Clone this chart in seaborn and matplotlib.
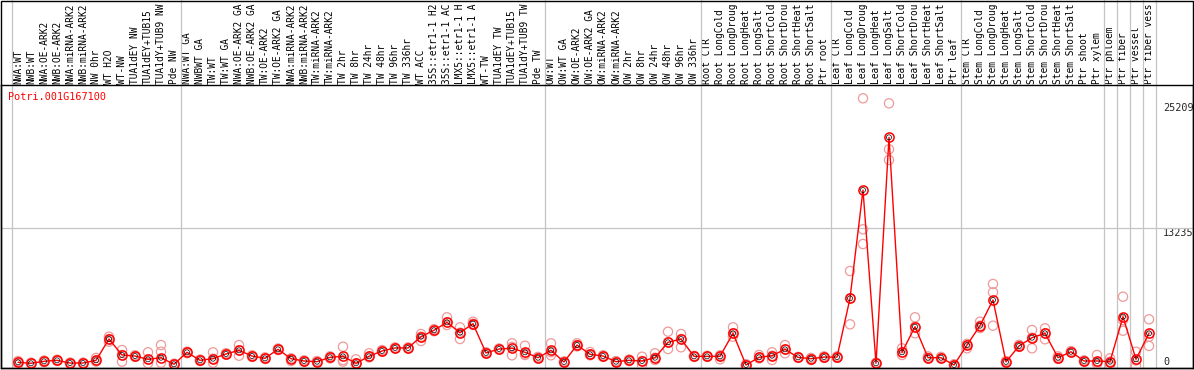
import numpy as np
import pandas as pd
import matplotlib
matplotlib.use("Agg")
import matplotlib.pyplot as plt
from matplotlib.markers import MarkerStyle
from matplotlib.patches import Rectangle
import seaborn as sns

gene = "Potri.001G167100"

# Category labels as they are visible in the chart (the header band cuts them at 14 characters)
categories = [
    "NWA:WT", "NWB:WT", "NWA:OE-ARK2", "NWB:OE-ARK2", "NWA:miRNA-ARK2", "NWB:miRNA-ARK2",
    "NW 0hr", "WT H2O", "WT-NW", "TUA1dEY NW", "TUA1dEY+TUB15", "TUA1dY+TUB9 NW", "Pde NW",
    "NWA:WT GA", "NWBWT GA", "TW:WT", "TW:WT GA", "NWA:OE-ARK2 GA", "NWB:OE-ARK2 GA",
    "TW:OE-ARK2", "TW:OE-ARK2 GA", "NWA:miRNA-ARK2", "NWB:miRNA-ARK2", "TW:miRNA-ARK2",
    "TW:miRNA-ARK2", "TW 2hr", "TW 8hr", "TW 24hr", "TW 48hr", "TW 96hr", "TW 336hr",
    "WT ACC", "35S::etr1-1 H2", "35S::etr1-1 AC", "LMX5::etr1-1 H", "LMX5::etr1-1 A",
    "WT-TW", "TUA1dEY TW", "TUA1dEY+TUB15", "TUA1dY+TUB9 TW", "Pde TW",
    "OW:WT", "OW:WT GA", "OW:OE-ARK2", "OW:OE-ARK2 GA", "OW:miRNA-ARK2", "OW:miRNA-ARK2",
    "OW 2hr", "OW 8hr", "OW 24hr", "OW 48hr", "OW 96hr", "OW 336hr",
    "Root CTR", "Root LongCold", "Root LongDroug", "Root LongHeat", "Root LongSalt",
    "Root ShortCold", "Root ShortDrou", "Root ShortHeat", "Root ShortSalt", "Ptr root",
    "Leaf CTR", "Leaf LongCold", "Leaf LongDroug", "Leaf LongHeat", "Leaf LongSalt",
    "Leaf ShortCold", "Leaf ShortDrou", "Leaf ShortHeat", "Leaf ShortSalt", "Ptr leaf",
    "Stem CTR", "Stem LongCold", "Stem LongDroug", "Stem LongHeat", "Stem LongSalt",
    "Stem ShortCold", "Stem ShortDrou", "Stem ShortHeat", "Stem ShortSalt", "Ptr shoot",
    "Ptr xylem", "Ptr phloem", "Ptr fiber", "Ptr vessel", "Ptr fiber vess",
]

means = [
    430, 335, 525, 620, 360, 360, 620, 2655, 1130, 1030, 715, 870, 240,
    1385, 620, 775, 1225, 1575, 1030, 810, 1670, 775, 555, 490, 905, 1000,
    335, 1000, 1510, 1800, 1800, 2880, 3490, 4250, 3260, 4120, 1320, 1700,
    1770, 1385, 870, 1575, 460, 2080, 1195, 1030, 490, 620, 555, 870, 2340,
    2655, 1000, 1000, 1000, 3200, 170, 905, 1060, 1670, 905, 775, 930, 930,
    6545, 16895, 335, 21930, 1385, 3830, 870, 870, 170, 2080, 3930, 6385,
    470, 1990, 2780, 3200, 870, 1440, 555, 555, 490, 4790, 715, 3200,
]

rep_a = [
    550, 400, 600, 680, 400, 400, 850, 2880, 1600, 1100, 1385, 2080, 300,
    1450, 700, 1385, 1300, 2080, 1100, 900, 1750, 800, 620, 550, 1000, 1920,
    715, 1290, 1600, 1850, 1850, 3135, 3600, 4730, 3775, 4310, 1400, 1750,
    2245, 2015, 950, 2245, 520, 2245, 1415, 1100, 550, 700, 965, 1290, 3355,
    3135, 1050, 1050, 1100, 3775, 250, 1130, 1385, 2080, 950, 850, 1000, 1000,
    9155, 25660, 400, 25180, 1770, 4730, 1000, 950, 250, 2200, 4310, 7915,
    550, 2100, 3515, 3680, 1000, 1500, 620, 1130, 810, 6700, 1440, 4540,
]

rep_b = [
    250, 300, 450, 560, 300, 320, 500, 2400, 490, 950, 335, 390, 200,
    1300, 550, 390, 1150, 1060, 950, 750, 1600, 555, 500, 430, 800, 490,
    250, 900, 1450, 1750, 1750, 2465, 3400, 3995, 2655, 4000, 1250, 1650,
    1100, 1130, 800, 1100, 400, 1950, 1100, 950, 430, 550, 170, 650, 1700,
    1865, 950, 950, 715, 2880, 100, 800, 650, 1290, 850, 650, 850, 850,
    4060, 13140, 250, 20785, 1130, 3200, 800, 800, 100, 1770, 3700, 7120,
    400, 1900, 1770, 2630, 750, 1380, 500, 250, 170, 4470, 100, 2880,
]

rep_c = [
    430, 335, 525, 620, 360, 360, 620, 2655, 1130, 1030, 715, 1440, 240,
    1385, 620, 775, 1225, 1575, 1030, 810, 1670, 775, 555, 490, 905, 650,
    335, 1000, 1510, 1800, 1800, 2880, 3490, 4250, 3260, 4120, 1320, 1700,
    1900, 1250, 870, 1400, 460, 2080, 1195, 1030, 490, 620, 555, 870, 2340,
    2655, 1000, 1000, 1000, 3200, 170, 905, 1060, 1670, 905, 775, 930, 930,
    6545, 11735, 335, 19765, 1385, 3830, 870, 870, 170, 2080, 3930, 3930,
    470, 1990, 2780, 3200, 870, 1440, 555, 400, 490, 3450, 600, 1990,
]

y_ticks = [0, 13235, 25209]
group_separators = [-0.5, 12.5, 40.5, 52.5, 62.5, 72.5, 83.5, 84.5, 85.5, 86.5, 87.5]

# ---------------------------------------------------------------
sns.set_style("white")
plt.rcParams["font.family"] = ["DejaVu Sans Mono", "DejaVu Sans"]

W, H = 1194, 370
fig = plt.figure(figsize=(W / 100, H / 100), dpi=100)
ax_left, ax_right, ax_top, ax_bot = 0.5, 1193.0, 85.0, 368.0
ax = fig.add_axes([ax_left / W, (H - ax_bot) / H, (ax_right - ax_left) / W, (ax_bot - ax_top) / H])

n = len(categories)
df = pd.DataFrame({"idx": np.arange(n), "label": categories, "mean": means})
reps = pd.DataFrame({
    "idx": np.tile(np.arange(n), 3),
    "value": rep_a + rep_b + rep_c,
})

grey = "#c4c4c4"
ext = ax_bot / (ax_bot - ax_top)
for b in group_separators:
    ax.axvline(b, ymin=0, ymax=ext, color=grey, lw=0.9, clip_on=False, zorder=1)
ax.axhline(y_ticks[1], color=grey, lw=0.9, zorder=1)

open_circle = MarkerStyle("o", fillstyle="none")
sns.scatterplot(data=reps, x="idx", y="value", ax=ax, marker=open_circle, s=44,
                color="#ee9a9a", linewidth=0.9, zorder=3, legend=False)
sns.lineplot(data=df, x="idx", y="mean", ax=ax, color="#ff0000", lw=1.0,
             marker="o", markersize=6.6, markerfacecolor="none",
             markeredgecolor="#ff0000", markeredgewidth=1.1, zorder=4)
sns.scatterplot(data=df, x="idx", y="mean", ax=ax, marker=open_circle, s=13,
                color="#000000", linewidth=0.5, zorder=5, legend=False)

ax.set_xlim((ax_left - 18) / 13, (ax_right - 18) / 13)
yscale = 95.57
ax.set_ylim((366.8 - ax_bot) * yscale, (366.8 - ax_top) * yscale)

ax.xaxis.tick_top()
ax.set_xticks(df["idx"])
ax.set_xticklabels(categories, rotation=90, fontsize=6.85)
ax.tick_params(axis="x", length=0, pad=1.0, colors="black")

ax.yaxis.tick_right()
ax.set_yticks(y_ticks)
ax.set_yticklabels([str(v) for v in y_ticks], fontsize=7.3)
ax.tick_params(axis="y", length=0, pad=-21.6)
for lbl, v in zip(ax.get_yticklabels(), y_ticks):
    lbl.set_va("bottom" if v == 0 else "top")

ax.set_xlabel("")
ax.set_ylabel("")
for sp in ax.spines.values():
    sp.set_visible(True)
    sp.set_color("black")
    sp.set_linewidth(1.0)

ax.text((8 - ax_left) / (ax_right - ax_left), 1 - (92 - ax_top) / (ax_bot - ax_top), gene,
        transform=ax.transAxes, color="#ff0000", fontsize=7.3, ha="left", va="top")

fig.add_artist(Rectangle((0.5 / W, (H - ax_bot) / H), (ax_right - 0.5) / W, (ax_bot - 0.5) / H,
                         transform=fig.transFigure, fill=False, edgecolor="black", lw=1.0))

fig.savefig("out.png", dpi=100)
